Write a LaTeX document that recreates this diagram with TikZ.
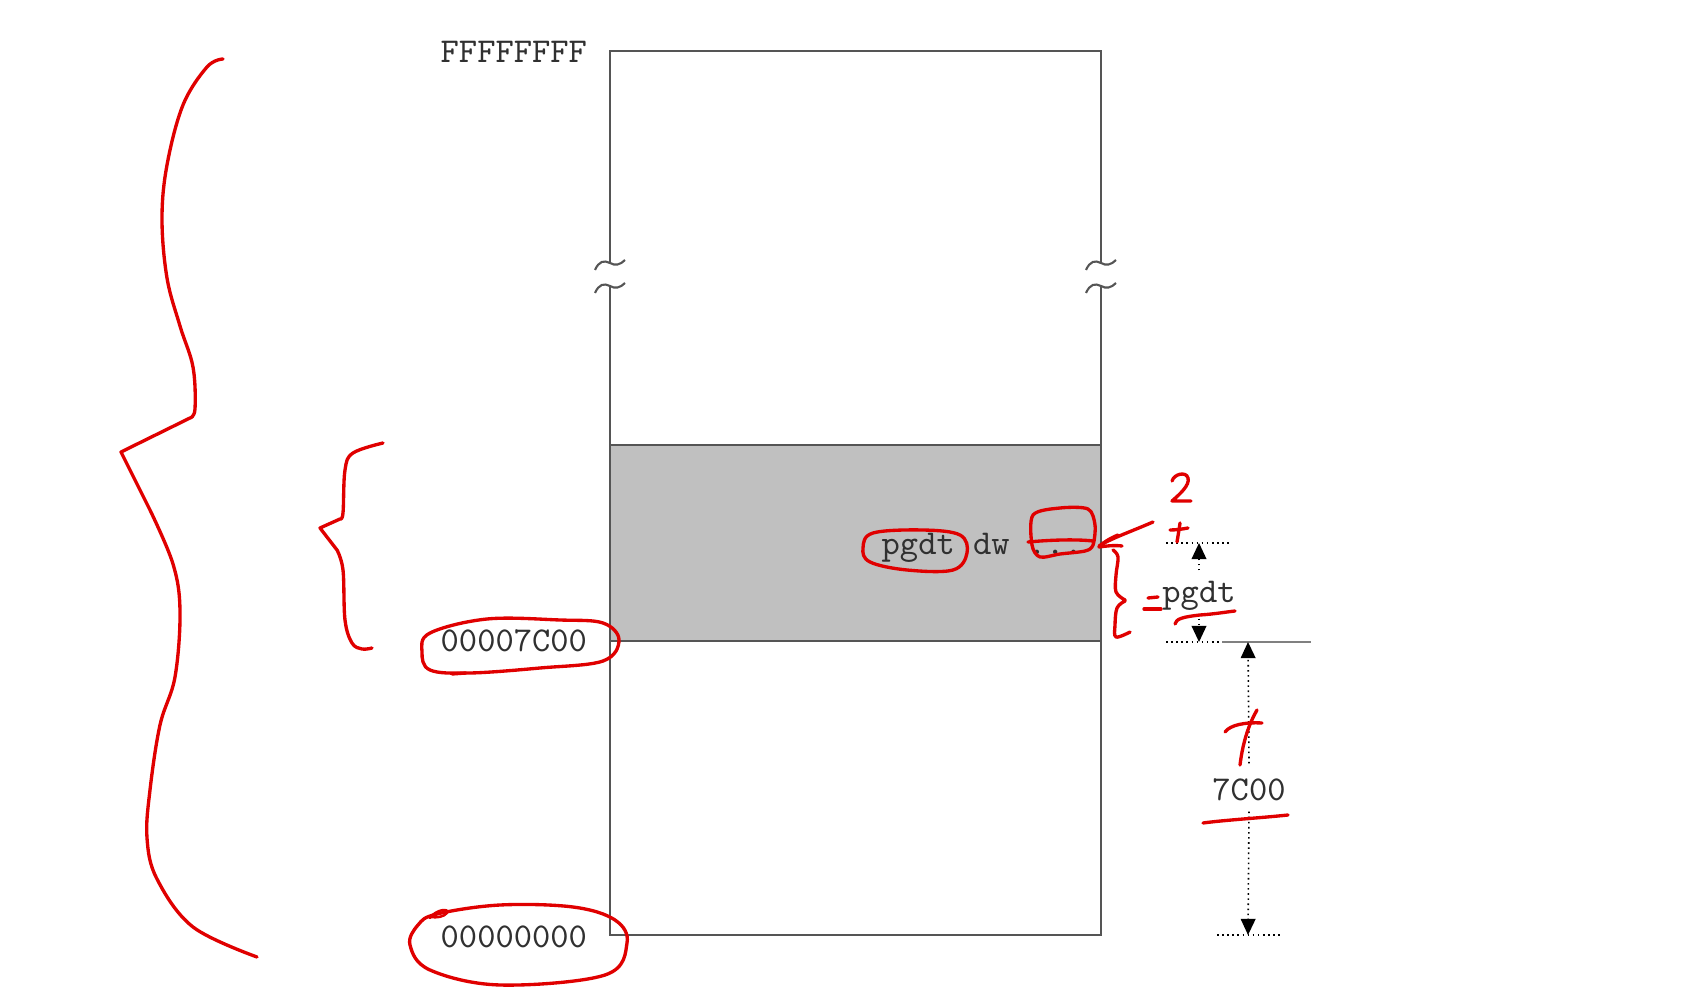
\documentclass[tikz,border=0pt]{standalone}
\usetikzlibrary{arrows.meta}
\definecolor{boxgray}{HTML}{C0C0C0}
\definecolor{edgecol}{HTML}{555555}
\definecolor{ink}{HTML}{E00000}
\definecolor{txt}{HTML}{303030}
\begin{document}
\begin{tikzpicture}[x={(0.01cm,0)},y={(0,-0.01cm)},
  lbl/.style={font=\ttfamily\fontsize{9.9}{11}\selectfont, text=txt, inner sep=0pt},
  edgeline/.style={draw=edgecol, line width=0.6pt},
  dimline/.style={densely dotted, line width=0.45pt, black},
  dimarrow/.style={densely dotted, line width=0.45pt, black, -{Triangle[width=4.2pt,length=4.6pt]}},
  hand/.style={draw=ink, line width=0.95pt, line cap=round, line join=round},
  brk/.pic={\draw[edgeline] (-15,7) .. controls (-11,-2) and (-6,-3) .. (0,0) .. controls (5,3) and (10,2) .. (15,-3);}
]
\useasboundingbox (0,0) rectangle (1701,1007);
\fill[white] (0,0) rectangle (1701,1007);

% memory box
\fill[boxgray] (610,445) rectangle (1101,641);
\draw[edgeline] (610,263) -- (610,51) -- (1101,51) -- (1101,263);
\draw[edgeline] (610,286) -- (610,935) -- (1101,935) -- (1101,286);
\draw[edgeline] (610,445) -- (1101,445);
\draw[edgeline] (610,641) -- (1101,641);
\pic at (610,263) {brk};
\pic at (610,286) {brk};
\pic at (1101,263) {brk};
\pic at (1101,286) {brk};

% address labels
\node[lbl, anchor=base west] (ftop) at (440,63) {FFFFFFFF};
\node[lbl, anchor=base west] (fmid) at (440,652) {00007C00};
\node[lbl, anchor=base west] (fbot) at (440,947) {00000000};
\node[lbl, anchor=base west] (decl) at (881,555) {pgdt dw ...};

% dimension lines
\coordinate (d1top) at (1199,543);
\coordinate (d1bot) at (1199,642);
\coordinate (d2top) at (1248,642);
\coordinate (d2bot) at (1248,935);
\draw[dimline] (1166,543) -- (1230,543);
\draw[dimline] (1166,642) -- (1230,642);
\draw[dimline] (1217,642) -- (1311,642);
\draw[draw=gray, line width=0.4pt] (1222,642) -- (1311,642);
\draw[dimline] (1217,935) -- (1282,935);
\node[lbl, anchor=base] (plab) at (1199,603) {pgdt};
\node[lbl, anchor=base] (slab) at (1249,800) {7C00};
\draw[dimarrow] ([yshift=3pt]plab.north) -- (d1top);
\draw[dimarrow] ([yshift=-2pt]plab.south) -- (d1bot);
\draw[dimarrow] ([yshift=4pt]slab.north) -- (d2top);
\draw[dimarrow] ([yshift=-3pt]slab.south) -- (d2bot);

% ---- red handwritten annotations ----
% big brace
\draw[hand] plot[smooth, tension=0.6] coordinates {(223,59) (207,67) (183,105) (167,165) (162,219) (167,278) (180,326) (193,367) (195,409) (190,418)}
  -- (121,452)
  -- plot[smooth, tension=0.6] coordinates {(150,510) (173,564) (180,611) (175,677) (160,725) (150,790) (147,838) (157,879) (193,927) (257,957)};
% small brace
\draw[hand] plot[smooth, tension=0.6] coordinates {(383,443) (353,453) (345,470) (343,513) (340,519)}
  -- (320,528)
  -- plot[smooth, tension=0.6] coordinates {(337,550) (343,570) (345,620) (352,643) (362,649) (372,648)};
% circle around 00007C00
\draw[hand] plot[smooth cycle, tension=0.6] coordinates {(430,633) (487,619) (560,620) (603,623) (619,640) (603,661) (540,668) (470,673) (430,670) (422,652)};
\draw[hand] (452,674) -- (466,673);
% circle around 00000000
\draw[hand] plot[smooth cycle, tension=0.6] coordinates {(437,914) (500,905) (573,907) (615,920) (627,943) (605,975) (500,985) (430,970) (410,945) (418,925)};
\draw[hand, line width=0.7pt] (430,918) .. controls (436,909) and (450,908) .. (447,913) .. controls (444,917) and (436,918) .. (431,917);
% circle around pgdt
\draw[hand] plot[smooth cycle, tension=0.6] coordinates {(873,533) (923,530) (960,535) (967,553) (953,570) (907,570) (870,562) (863,548)};
% box round the dots
\draw[hand] plot[smooth cycle, tension=0.5] coordinates {(1033,515) (1060,508) (1088,509) (1095,525) (1093,545) (1085,551) (1060,554) (1040,557) (1032,545)};
\draw[hand] (1028,542) .. controls (1050,540) and (1075,539) .. (1093,541);
% arrow pointing to the dots
\draw[hand] (1153,522) .. controls (1130,532) and (1112,538) .. (1099,546);
\draw[hand] (1118,535) .. controls (1108,539) and (1100,545) .. (1099,547) .. controls (1106,546) and (1114,545) .. (1122,546);
% 2 and +
\draw[hand] (1172,481) .. controls (1174,474) and (1186,471) .. (1188,478) .. controls (1190,485) and (1180,494) .. (1172,501) -- (1191,501);
\draw[hand] (1170,530) .. controls (1176,530) and (1183,529) .. (1188,528);
\draw[hand] (1180,523) .. controls (1179,530) and (1178,536) .. (1177,542);
% right brace and =
\draw[hand] plot[smooth, tension=0.6] coordinates {(1113,550) (1118,557) (1116,575) (1116,592) (1125,600)}
  -- plot[smooth, tension=0.6] coordinates {(1125,601) (1117,608) (1115,625) (1116,637) (1130,632)};
\draw[hand] (1148,598) -- (1158,597);
\draw[hand] (1144,609) -- (1161,609);
% underline right pgdt
\draw[hand] (1175,624) .. controls (1176,619) and (1182,617) .. (1200,615) .. controls (1215,614) and (1226,612) .. (1235,611);
% 7 above 7C00
\draw[hand] (1225,732) .. controls (1230,725) and (1245,722) .. (1262,723);
\draw[hand] (1257,710) .. controls (1250,722) and (1243,740) .. (1240,765);
% underline 7C00
\draw[hand] (1203,823) .. controls (1225,820) and (1260,818) .. (1288,815);
\end{tikzpicture}
\end{document}
